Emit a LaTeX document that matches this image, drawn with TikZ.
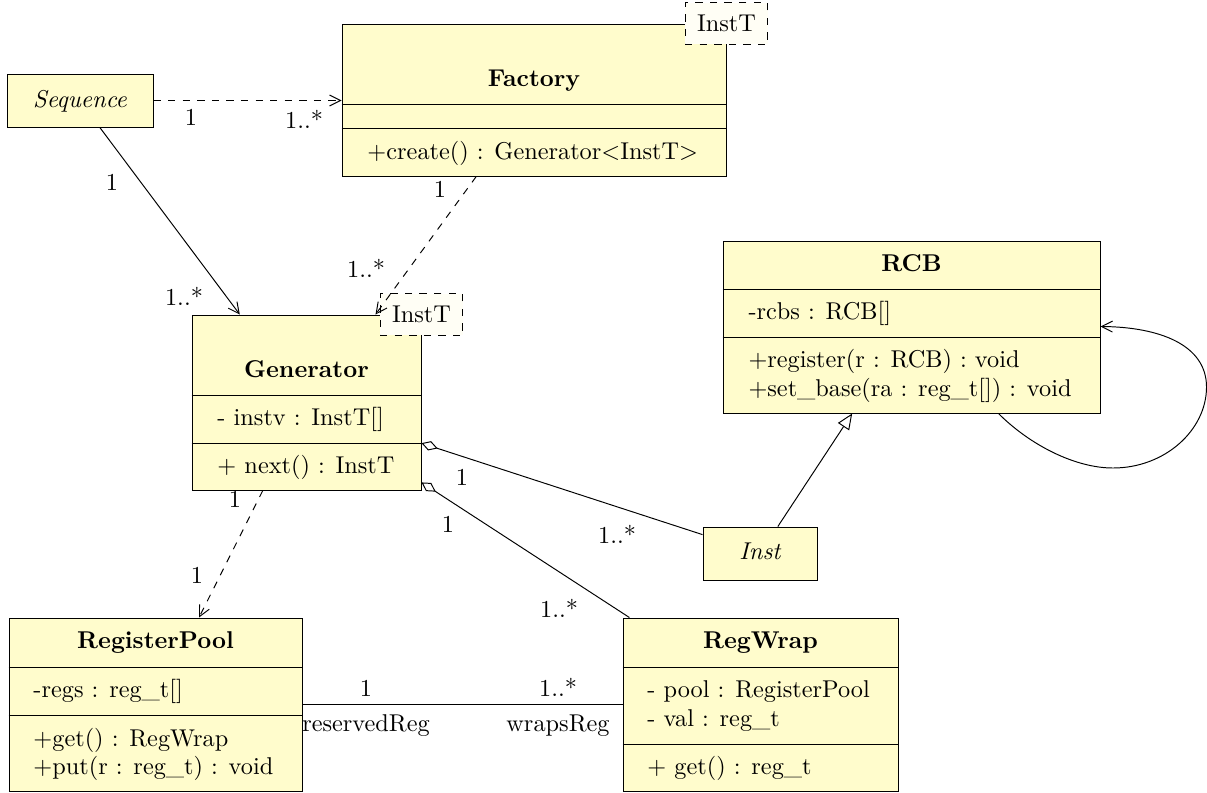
\documentclass[tikz,border=0pt]{standalone}
\usetikzlibrary{arrows.meta,fit,calc}
\begin{document}
\begin{tikzpicture}[x=0.4115pt,y=-0.4115pt,
  classbox/.style={draw=black, fill=yellow!20, line width=0.4pt, inner sep=0pt},
  tmplbox/.style={draw=black, dashed, fill=yellow!4, line width=0.4pt, inner xsep=4.9pt, inner ysep=5.1pt},
  ttl/.style={anchor=base, font=\bfseries, inner sep=0pt},
  itl/.style={anchor=base, font=\itshape, inner sep=0pt},
  mem/.style={anchor=base west, inner sep=0pt},
  lbl/.style={anchor=base, inner sep=0pt},
  sepline/.style={draw=black, line width=0.4pt},
  conn/.style={draw=black, line width=0.4pt},
  depend/.style={conn, dashed, -{Straight Barb[length=4.5pt,width=4.5pt]}},
  assoc/.style={conn, -{Straight Barb[length=4.5pt,width=4.5pt]}},
  aggr/.style={conn, {Diamond[open,length=7pt,width=4pt]}-},
  gener/.style={conn, -{Triangle[open,length=6.5pt,width=5.5pt,fill=white]}}
]
\useasboundingbox (0,0) rectangle (1207,792);

% ---------- Factory ----------
\node[classbox, fit={(342,24)(726,176)}] (fac) {};
\draw[sepline] (fac.west |- 0,104) -- (fac.east |- 0,104);
\draw[sepline] (fac.west |- 0,128) -- (fac.east |- 0,128);
\node[ttl] (facN) at (534,86) {Factory};
\node[mem] (facM) at (367,159) {+create() : Generator<InstT>};
\node[tmplbox] (facT) at (fac.north east) {InstT};

% ---------- Sequence ----------
\node[classbox, fit={(7,74)(153,127)}] (seq) {};
\node[itl] (seqN) at (80,107) {Sequence};

% ---------- Generator ----------
\node[classbox, fit={(192,315)(421,490)}] (gen) {};
\draw[sepline] (gen.west |- 0,395) -- (gen.east |- 0,395);
\draw[sepline] (gen.west |- 0,443) -- (gen.east |- 0,443);
\node[ttl] (genN) at (306.5,377) {Generator};
\node[mem] (genA) at (217,425) {- instv : InstT[]};
\node[mem] (genM) at (217,473) {+ next() : InstT};
\node[tmplbox] (genT) at (gen.north east) {InstT};

% ---------- RCB ----------
\node[classbox, fit={(723,241)(1100,413)}] (rcb) {};
\draw[sepline] (rcb.west |- 0,289) -- (rcb.east |- 0,289);
\draw[sepline] (rcb.west |- 0,337) -- (rcb.east |- 0,337);
\node[ttl] (rcbN) at (911.5,271) {RCB};
\node[mem] (rcbA) at (748,319) {-rcbs : RCB[]};
\node[mem] (rcbM1) at (748,367) {+register(r : RCB) : void};
\node[mem] (rcbM2) at (748,396) {+set\_base(ra : reg\_t[]) : void};

% ---------- Inst ----------
\node[classbox, fit={(703,527)(817,580)}] (inst) {};
\node[itl] (instN) at (760,559) {Inst};

% ---------- RegisterPool ----------
\node[classbox, fit={(9,618)(302,791.5)}] (rp) {};
\draw[sepline] (rp.west |- 0,667) -- (rp.east |- 0,667);
\draw[sepline] (rp.west |- 0,715) -- (rp.east |- 0,715);
\node[ttl] (rpN) at (155.5,648.5) {RegisterPool};
\node[mem] (rpA) at (33,697) {-regs : reg\_t[]};
\node[mem] (rpM1) at (33,746) {+get() : RegWrap};
\node[mem] (rpM2) at (33,774) {+put(r : reg\_t) : void};

% ---------- RegWrap ----------
\node[classbox, fit={(623,618)(898,791.5)}] (rw) {};
\draw[sepline] (rw.west |- 0,667) -- (rw.east |- 0,667);
\draw[sepline] (rw.west |- 0,744) -- (rw.east |- 0,744);
\node[ttl] (rwN) at (760.5,648.5) {RegWrap};
\node[mem] (rwA1) at (647,697) {- pool : RegisterPool};
\node[mem] (rwA2) at (647,726) {- val : reg\_t};
\node[mem] (rwM) at (647,774) {+ get() : reg\_t};

% ---------- Connectors ----------
% Sequence -> Factory
\draw[depend] (seq.east) -- (fac.west |- seq.east);
\node[lbl] (l1a) at (191,125) {1};
\node[lbl] (l1b) at (304,128) {1..*};

% Sequence -> Generator
\draw[assoc] ($(seq.south west)!0.635!(seq.south east)$) -- ($(gen.north west)!0.21!(gen.north east)$);
\node[lbl] (l2a) at (112,190) {1};
\node[lbl] (l2b) at (184,305) {1..*};

% Factory -> Generator
\draw[depend] ($(fac.south west)!0.35!(fac.south east)$) -- ($(gen.north west)!0.80!(gen.north east)$);
\node[lbl] (l3a) at (440,197) {1};
\node[lbl] (l3b) at (366,277) {1..*};

% Generator -> RegisterPool
\draw[depend] ($(gen.south west)!0.31!(gen.south east)$) -- ($(rp.north west)!0.648!(rp.north east)$);
\node[lbl] (l4a) at (235,507) {1};
\node[lbl] (l4b) at (197,583) {1};

% Generator <>- Inst
\draw[aggr] ($(gen.north east)!0.731!(gen.south east)$) -- ($(inst.north west)!0.15!(inst.south west)$);
\node[lbl] (l5a) at (462,485) {1};
\node[lbl] (l5b) at (617,543) {1..*};

% Generator <>- RegWrap
\draw[aggr] ($(gen.north east)!0.954!(gen.south east)$) -- ($(rw.north west)!0.025!(rw.north east)$);
\node[lbl] (l6a) at (448,532) {1};
\node[lbl] (l6b) at (559,617) {1..*};

% Inst -> RCB (generalization)
\draw[gener] ($(inst.north west)!0.655!(inst.north east)$) -- ($(rcb.south west)!0.343!(rcb.south east)$);

% RegisterPool -- RegWrap
\draw[conn] (rp.east) -- (rw.west);
\node[lbl] (l7a) at (366,696) {1};
\node[lbl] (l7b) at (558,696) {1..*};
\node[lbl] (l7c) at (366,731) {reservedReg};
\node[lbl] (l7d) at (558,731) {wrapsReg};

% RCB self association
\draw[assoc] ($(rcb.south west)!0.73!(rcb.south east)$)
  .. controls (1030,445) and (1075,468) .. (1113,468)
  .. controls (1165,468) and (1206.5,430) .. (1206.5,387)
  .. controls (1206.5,345) and (1160,327) .. ($(rcb.north east)!0.497!(rcb.south east)$);
\end{tikzpicture}
\end{document}
